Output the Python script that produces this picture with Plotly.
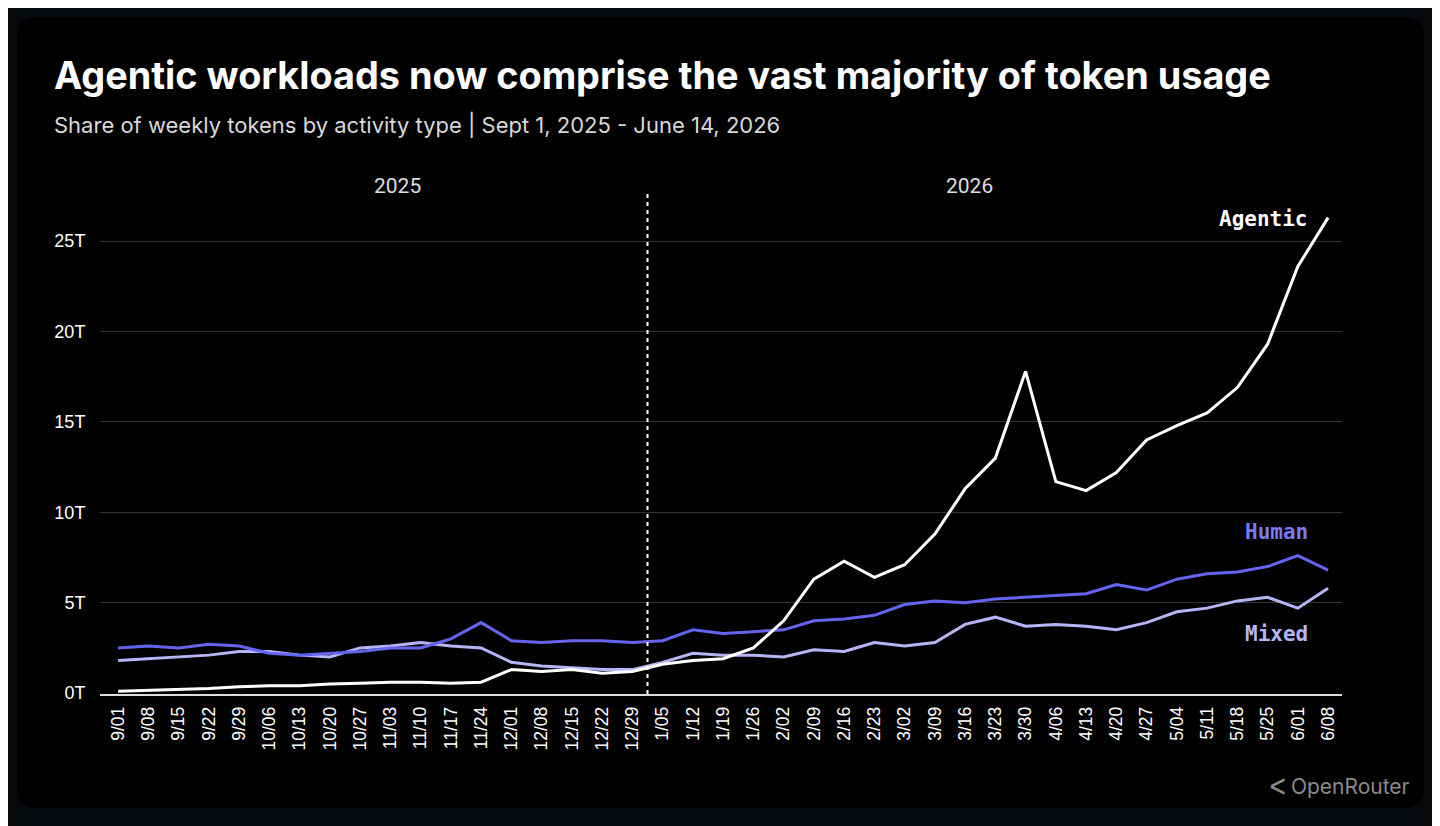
import plotly.graph_objects as go

weeks = ["9/01","9/08","9/15","9/22","9/29","10/06","10/13","10/20","10/27","11/03","11/10","11/17","11/24",
         "12/01","12/08","12/15","12/22","12/29","1/05","1/12","1/19","1/26","2/02","2/09","2/16","2/23",
         "3/02","3/09","3/16","3/23","3/30","4/06","4/13","4/20","4/27","5/04","5/11","5/18","5/25","6/01","6/08"]
agentic = [0.1,0.15,0.2,0.25,0.35,0.4,0.4,0.5,0.55,0.6,0.6,0.55,0.6,1.3,1.2,1.3,1.1,1.2,1.6,1.8,1.9,2.5,4.0,
           6.3,7.3,6.4,7.1,8.8,11.3,13.0,17.8,11.7,11.2,12.2,14.0,14.8,15.5,16.9,19.3,23.6,26.3]
human = [2.5,2.6,2.5,2.7,2.6,2.2,2.1,2.2,2.3,2.5,2.5,3.0,3.9,2.9,2.8,2.9,2.9,2.8,2.9,3.5,3.3,3.4,3.5,4.0,4.1,
         4.3,4.9,5.1,5.0,5.2,5.3,5.4,5.5,6.0,5.7,6.3,6.6,6.7,7.0,7.6,6.8]
mixed = [1.8,1.9,2.0,2.1,2.3,2.3,2.1,2.0,2.5,2.6,2.8,2.6,2.5,1.7,1.5,1.4,1.3,1.3,1.7,2.2,2.1,2.1,2.0,2.4,2.3,
         2.8,2.6,2.8,3.8,4.2,3.7,3.8,3.7,3.5,3.9,4.5,4.7,5.1,5.3,4.7,5.8]
y_ticks = [0,5,10,15,20,25]
y_labels = ["0T","5T","10T","15T","20T","25T"]

HUMAN_C = "#6464ee"
MIXED_C = "#b6b6f6"
x = list(range(len(weeks)))

fig = go.Figure()
fig.add_trace(go.Scatter(x=x, y=mixed, mode="lines", line=dict(color=MIXED_C, width=3), name="Mixed"))
fig.add_trace(go.Scatter(x=x, y=human, mode="lines", line=dict(color=HUMAN_C, width=3), name="Human"))
fig.add_trace(go.Scatter(x=x, y=agentic, mode="lines", line=dict(color="white", width=3), name="Agentic"))

OFF = 8  # page body margin
L0, R0, T0, B0 = 100, 98, 190, 132
W, H = 1440 - L0 - R0, 826 - T0 - B0
L, R, T, B = L0 - OFF, R0 + OFF, T0 - OFF, B0 + OFF
def px(v): return (v - L0) / W
def py(v): return (826 - B0 - v) / H
x0, x1, y0, y1 = px(17), px(1424), py(808), py(17)
rx, ry = 20 / W, 20 / H
path = (f"M {x0+rx} {y1} L {x1-rx} {y1} Q {x1} {y1} {x1} {y1-ry} L {x1} {y0+ry} Q {x1} {y0} {x1-rx} {y0} "
        f"L {x0+rx} {y0} Q {x0} {y0} {x0} {y0+ry} L {x0} {y1-ry} Q {x0} {y1} {x0+rx} {y1} Z")
fig.add_shape(type="path", path=path, xref="paper", yref="paper", fillcolor="#000000",
              line=dict(width=0), layer="below")
fig.add_shape(type="line", x0=17.5, x1=17.5, y0=0, y1=1, xref="x", yref="paper",
              line=dict(color="white", width=2, dash="4px,4px"))

mono = "DejaVu Sans Mono, Liberation Mono, monospace"
ann = [
    dict(x=px(52), y=py(75), text="<b>Agentic workloads now comprise the vast majority of token usage</b>",
         font=dict(size=37.8, color="white", family="Inter"), xanchor="left"),
    dict(x=px(52), y=py(124), text="Share of weekly tokens by activity type | Sept 1, 2025 - June 14, 2026",
         font=dict(size=22, color="#d8d8d8", family="Inter"), xanchor="left"),
    dict(x=px(372), y=py(186), text="2025", font=dict(size=21, color="#dddddd", family="Roboto")),
    dict(x=px(995), y=py(186), text="2026", font=dict(size=21, color="#dddddd", family="Roboto")),
    dict(x=px(1310), y=py(219), text="<b>Agentic</b>", font=dict(size=21, color="white", family=mono), xanchor="right"),
    dict(x=px(1310), y=py(532), text="<b>Human</b>", font=dict(size=21, color="#7a7af2", family=mono), xanchor="right"),
    dict(x=px(1310), y=py(634), text="<b>Mixed</b>", font=dict(size=21, color=MIXED_C, family=mono), xanchor="right"),
    dict(x=px(1412), y=py(786), text="<b>ᐸ</b> OpenRouter", font=dict(size=21, color="#8a8a8a", family="Inter"), xanchor="right"),
]
for a in ann:
    a.update(xref="paper", yref="paper", showarrow=False, yanchor="middle")
    fig.add_annotation(**a)

fig.update_layout(
    width=1440, height=826, margin=dict(l=L, r=R, t=T, b=B),
    paper_bgcolor="#060a0d", plot_bgcolor="rgba(0,0,0,0)", showlegend=False,
    font=dict(family="Liberation Sans, Arial", color="white"),
    xaxis=dict(range=[-0.6, 40.46], tickvals=x, ticktext=weeks, tickangle=-90, showgrid=False,
               showline=True, linecolor="#dddddd", linewidth=1.5, zeroline=False,
               tickfont=dict(size=17.5, color="white"), ticks="outside", ticklen=4, tickcolor="rgba(0,0,0,0)"),
    yaxis=dict(range=[-0.05, 27.83], tickvals=y_ticks, ticktext=y_labels, showgrid=True,
               gridcolor="#333333", gridwidth=1, zeroline=False, showline=False,
               tickfont=dict(size=18, color="white"), ticks="outside", ticklen=10, tickcolor="rgba(0,0,0,0)"),
)
fig.write_html("out.html")
